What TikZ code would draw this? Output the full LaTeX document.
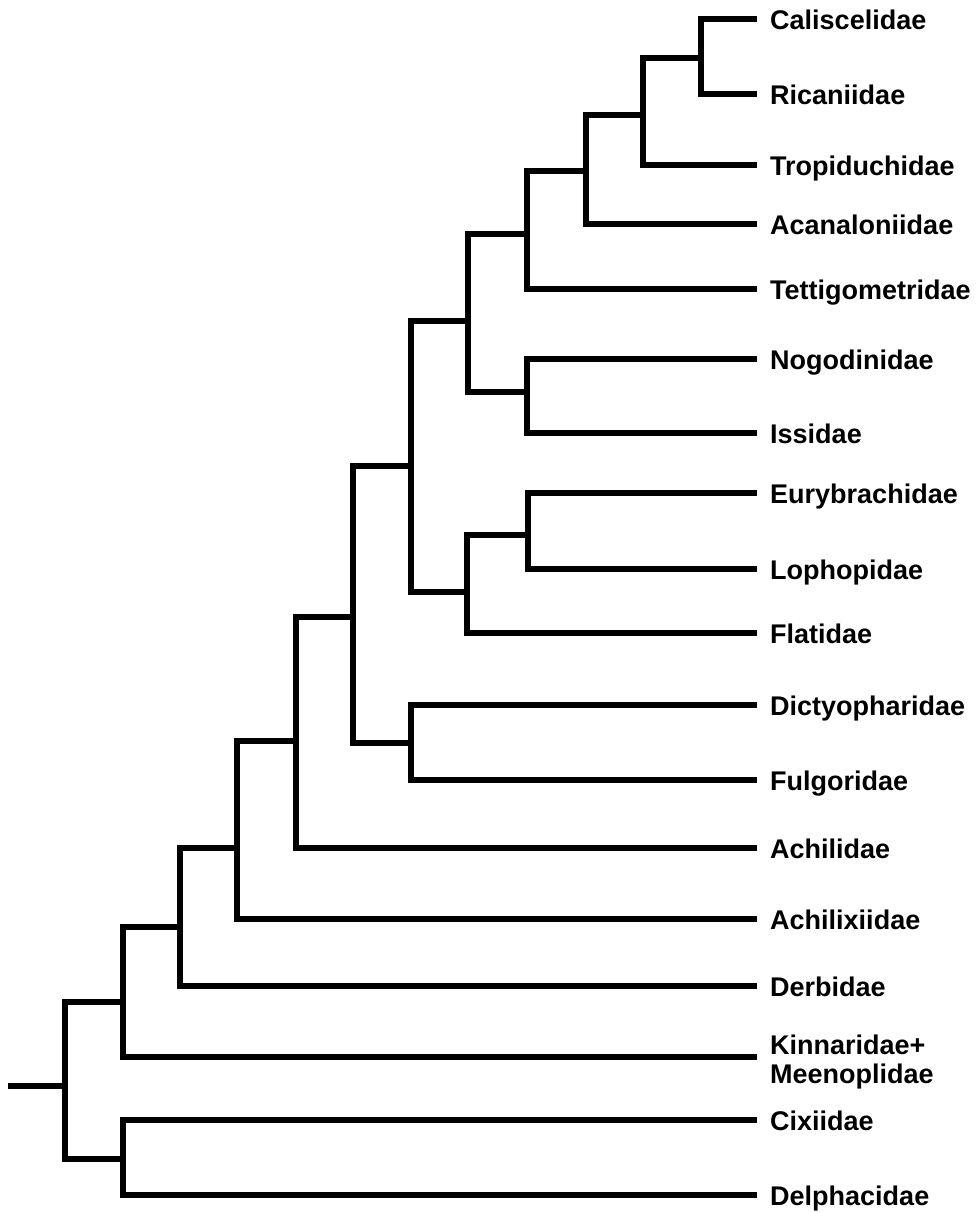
\documentclass[tikz,border=0pt]{standalone}
\usepackage{fontspec}
\setmainfont{Liberation Sans}
\begin{document}
\begin{tikzpicture}[x=1pt,y=-1pt,
  branch/.style={line width=5.6pt, line join=miter, line cap=butt},
  taxon/.style={anchor=base west, inner sep=0pt, align=left,
    font=\fontsize{27}{29}\selectfont\bfseries}]
\useasboundingbox (0,0) rectangle (977,1213);

% branch tips (right ends of the terminal branches)
\foreach \n/\y in {Cal/19, Ric/94, Tro/165, Aca/224, Tet/289, Nog/359,
    Iss/433, Eur/493, Lop/569, Fla/633, Dic/705, Ful/780, Achi/848,
    Achx/919, Der/986, Kin/1057, Cix/1120, Del/1195}
  \coordinate (t\n) at (757,\y);

% taxon labels
\node[taxon] (lCal)  at (770,29)   {Caliscelidae};
\node[taxon] (lRic)  at (770,104)  {Ricaniidae};
\node[taxon] (lTro)  at (770,175)  {Tropiduchidae};
\node[taxon] (lAca)  at (770,234)  {Acanaloniidae};
\node[taxon] (lTet)  at (770,299)  {Tettigometridae};
\node[taxon] (lNog)  at (770,369)  {Nogodinidae};
\node[taxon] (lIss)  at (770,443)  {Issidae};
\node[taxon] (lEur)  at (770,503)  {Eurybrachidae};
\node[taxon] (lLop)  at (770,579)  {Lophopidae};
\node[taxon] (lFla)  at (770,643)  {Flatidae};
\node[taxon] (lDic)  at (770,715)  {Dictyopharidae};
\node[taxon] (lFul)  at (770,790)  {Fulgoridae};
\node[taxon] (lAchi) at (770,858)  {Achilidae};
\node[taxon] (lAchx) at (770,929)  {Achilixiidae};
\node[taxon] (lDer)  at (770,996)  {Derbidae};
\node[taxon] (lKin)  at (770,1083) {Kinnaridae+\\Meenoplidae};
\node[taxon] (lCix)  at (770,1130) {Cixiidae};
\node[taxon] (lDel)  at (770,1205) {Delphacidae};

% internal nodes
\coordinate (n1)   at (701,58);
\coordinate (n2)   at (643,115);
\coordinate (n3)   at (586,171);
\coordinate (n4)   at (527,234);
\coordinate (nNI)  at (527,392);
\coordinate (n5)   at (468,321);
\coordinate (nEL)  at (528,535);
\coordinate (nELF) at (467,592);
\coordinate (n6)   at (411,466);
\coordinate (nDF)  at (411,743);
\coordinate (n8)   at (353,617);
\coordinate (n9)   at (296,741);
\coordinate (n10)  at (237,848);
\coordinate (n11)  at (180,927);
\coordinate (n12)  at (123,1002);
\coordinate (nCD)  at (123,1159);
\coordinate (root) at (65,1086);
\coordinate (stem) at (8,1086);

% clades: first child, node, second child
\draw[branch] (tCal) -| (n1) |- (tRic);
\draw[branch] (n1)   -| (n2) |- (tTro);
\draw[branch] (n2)   -| (n3) |- (tAca);
\draw[branch] (n3)   -| (n4) |- (tTet);
\draw[branch] (tNog) -| (nNI) |- (tIss);
\draw[branch] (n4)   -| (n5) |- (nNI);
\draw[branch] (tEur) -| (nEL) |- (tLop);
\draw[branch] (nEL)  -| (nELF) |- (tFla);
\draw[branch] (n5)   -| (n6) |- (nELF);
\draw[branch] (tDic) -| (nDF) |- (tFul);
\draw[branch] (n6)   -| (n8) |- (nDF);
\draw[branch] (n8)   -| (n9) |- (tAchi);
\draw[branch] (n9)   -| (n10) |- (tAchx);
\draw[branch] (n10)  -| (n11) |- (tDer);
\draw[branch] (n11)  -| (n12) |- (tKin);
\draw[branch] (tCix) -| (nCD) |- (tDel);
\draw[branch] (n12)  -| (root) |- (nCD);
\draw[branch] (stem) -- (root);
\end{tikzpicture}
\end{document}
